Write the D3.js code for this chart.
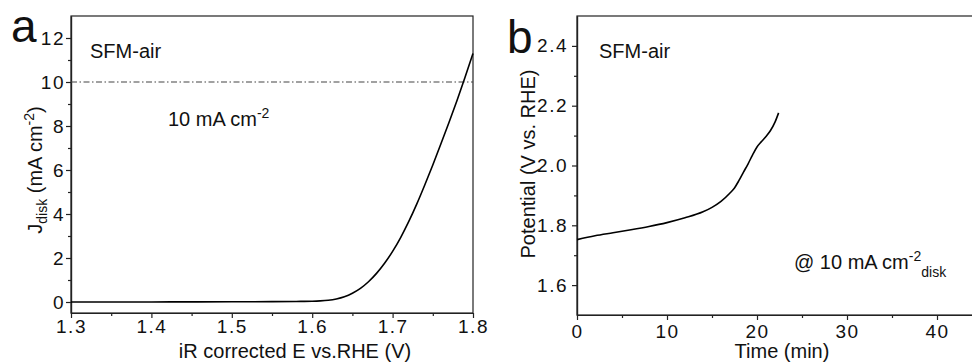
<!DOCTYPE html>
<html>
<head>
<meta charset="utf-8">
<script src="https://cdn.jsdelivr.net/npm/d3@7"></script>
<style>
body { margin: 0; background: #fff; }
svg { display: block; }
text { font-family: Arial, "Liberation Sans", sans-serif; fill: #111; }
.frame { fill: none; stroke: #222; stroke-width: 1.2; }
.curve { fill: none; stroke: #000; stroke-width: 1.6; }
</style>
</head>
<body>
<script>
// panel a: polarisation curve (J vs E)
var lsvE = [1.30, 1.35, 1.40, 1.45, 1.50, 1.55, 1.58, 1.60, 1.61, 1.62, 1.63, 1.64, 1.65, 1.66,
            1.67, 1.68, 1.69, 1.70, 1.71, 1.72, 1.73, 1.74, 1.75, 1.76, 1.77, 1.78, 1.79, 1.80];
var lsvJ = [0, 0.001, 0.003, 0.005, 0.008, 0.015, 0.025, 0.035, 0.05, 0.08, 0.14, 0.24, 0.4, 0.62,
            0.92, 1.3, 1.76, 2.3, 2.93, 3.65, 4.45, 5.32, 6.23, 7.18, 8.15, 9.15, 10.2, 11.3];
var ticksE = [1.3, 1.4, 1.5, 1.6, 1.7, 1.8];
var minorE = [1.35, 1.45, 1.55, 1.65, 1.75];
var ticksJ = [0, 2, 4, 6, 8, 10, 12];
var minorJ = [1, 3, 5, 7, 9, 11];
var refJ = 10;

// panel b: chronopotentiometry (potential vs time)
var timeMin = [0, 2, 4, 6, 8, 10, 12, 14, 15, 16, 17, 17.5, 18, 18.5, 19, 19.5, 20, 20.5, 21, 21.5, 22, 22.4];
var potV = [1.752, 1.765, 1.775, 1.785, 1.796, 1.809, 1.825, 1.845, 1.860, 1.880, 1.908, 1.925,
            1.950, 1.978, 2.005, 2.035, 2.062, 2.080, 2.097, 2.117, 2.145, 2.176];
var ticksT = [0, 10, 20, 30, 40];
var minorT = [5, 15, 25, 35, 45];
var ticksV = [1.6, 1.8, 2.0, 2.2, 2.4];
var minorV = [1.7, 1.9, 2.1, 2.3];

var width = 972,
    height = 363;

var svg = d3.select("body")
    .append("svg")
    .attr("width", width)
    .attr("height", height);

//scales
var xA = d3.scaleLinear().domain([1.3, 1.8]).range([71, 473]);
var yA = d3.scaleLinear().domain([-0.5, 13]).range([313, 16]);
var xB = d3.scaleLinear().domain([0, 50]).range([577, 1027]);
var yB = d3.scaleLinear().domain([1.5, 2.5]).range([315, 16]);

//draw a major + minor axis pair
function addAxis(axisFn, scale, major, minor, fmt, pos, isX, pad){
    var tr = isX ? "translate(0," + pos + ")" : "translate(" + pos + ",0)";
    svg.append("g")
        .attr("transform", tr)
        .call(axisFn(scale).tickValues(minor).tickSize(3).tickSizeOuter(0).tickFormat(""))
        .call(function(g){ g.selectAll("path,line").attr("stroke", "#222").attr("stroke-width", 1.2); });
    svg.append("g")
        .attr("transform", tr)
        .call(axisFn(scale).tickValues(major).tickSize(5).tickPadding(pad).tickSizeOuter(0).tickFormat(fmt))
        .call(function(g){
            g.selectAll("path,line").attr("stroke", "#222").attr("stroke-width", 1.2);
            g.selectAll("text")
                .attr("fill", "#111")
                .style("font-size", "19px")
                .style("letter-spacing", "1.5px")
                .style("font-family", "Arial, 'Liberation Sans', sans-serif");
        })
        .attr("font-family", null)
        .attr("font-size", null);
}

// ---------- panel a ----------
svg.append("rect").attr("class", "frame")
    .attr("x", xA.range()[0]).attr("y", yA.range()[1])
    .attr("width", xA.range()[1] - xA.range()[0])
    .attr("height", yA.range()[0] - yA.range()[1]);

addAxis(d3.axisBottom, xA, ticksE, minorE, d3.format(".1f"), 313, true, 2);
addAxis(d3.axisLeft, yA, ticksJ, minorJ, d3.format("d"), 71, false, 1);

//10 mA cm-2 reference line
svg.append("line")
    .attr("x1", xA(1.3)).attr("x2", xA(1.8))
    .attr("y1", yA(refJ)).attr("y2", yA(refJ))
    .attr("stroke", "#444")
    .attr("stroke-width", 1.1)
    .attr("stroke-dasharray", "6,2.5,1.5,2.5");

var lineA = d3.line()
    .x(function(d, i){ return xA(lsvE[i]); })
    .y(function(d){ return yA(d); })
    .curve(d3.curveMonotoneX);

svg.append("path").attr("class", "curve").datum(lsvJ).attr("d", lineA);

svg.append("text").attr("x", 11).attr("y", 42).style("font-size", "46px").text("a");
svg.append("text").attr("x", 90).attr("y", 58).style("font-size", "20px").text("SFM-air");

var annA = svg.append("text").attr("x", 168).attr("y", 126).style("font-size", "20px");
annA.append("tspan").text("10 mA cm");
annA.append("tspan").attr("dy", -8).style("font-size", "14px").text("-2");

svg.append("text")
    .attr("x", 295).attr("y", 358)
    .attr("text-anchor", "middle")
    .style("font-size", "20px")
    .text("iR corrected E vs.RHE (V)");

var titleA = svg.append("text")
    .attr("transform", "translate(42,170) rotate(-90)")
    .attr("text-anchor", "middle")
    .style("font-size", "20px");
titleA.append("tspan").text("J");
titleA.append("tspan").attr("dy", 5).style("font-size", "14px").text("disk");
titleA.append("tspan").attr("dy", -5).text(" (mA cm");
titleA.append("tspan").attr("dy", -8).style("font-size", "14px").text("-2");
titleA.append("tspan").attr("dy", 8).text(")");

// ---------- panel b ----------
svg.append("rect").attr("class", "frame")
    .attr("x", xB.range()[0]).attr("y", yB.range()[1])
    .attr("width", xB.range()[1] - xB.range()[0])
    .attr("height", yB.range()[0] - yB.range()[1]);

addAxis(d3.axisBottom, xB, ticksT, minorT, d3.format("d"), 315, true, 5);
addAxis(d3.axisLeft, yB, ticksV, minorV, d3.format(".1f"), 577, false, 4);

var lineB = d3.line()
    .x(function(d, i){ return xB(timeMin[i]); })
    .y(function(d){ return yB(d); })
    .curve(d3.curveMonotoneX);

svg.append("path").attr("class", "curve").datum(potV).attr("d", lineB);

svg.append("text").attr("x", 507).attr("y", 53).style("font-size", "46px").text("b");
svg.append("text").attr("x", 599).attr("y", 58).style("font-size", "20px").text("SFM-air");

var annB = svg.append("text").attr("x", 794).attr("y", 269).style("font-size", "20px");
annB.append("tspan").text("@ 10 mA cm");
annB.append("tspan").attr("dy", -8).style("font-size", "14px").text("-2");
annB.append("tspan").attr("dy", 16).style("font-size", "14px").text("disk");

svg.append("text")
    .attr("x", 782).attr("y", 358)
    .attr("text-anchor", "middle")
    .style("font-size", "20px")
    .text("Time (min)");

svg.append("text")
    .attr("transform", "translate(535,164) rotate(-90)")
    .attr("text-anchor", "middle")
    .style("font-size", "20px")
    .text("Potential (V vs. RHE)");
</script>
</body>
</html>
